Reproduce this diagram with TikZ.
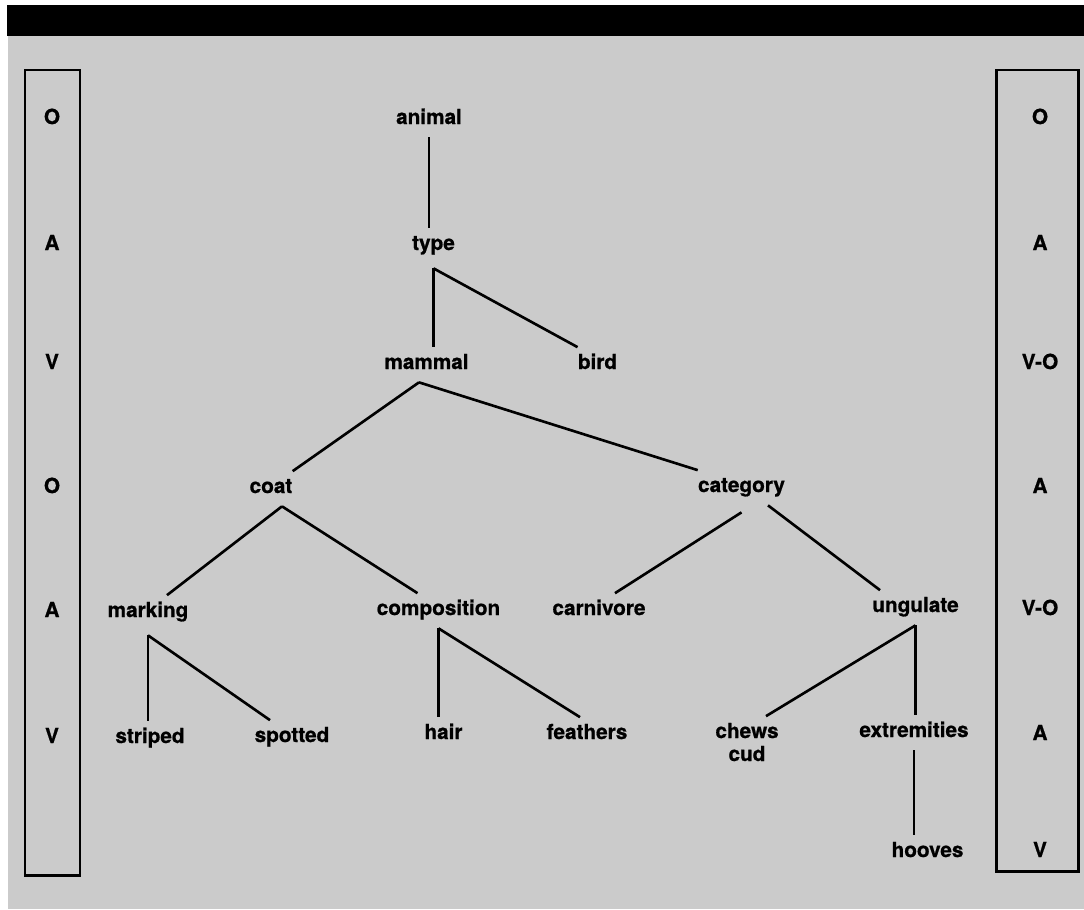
\documentclass[tikz,border=0pt]{standalone}
\usepackage{fontspec}
\setmainfont[BoldFeatures={FakeBold=0.8}]{TeX Gyre Heros}
\usepackage{tikz}
\pgfdeclarelayer{bg}
\pgfsetlayers{bg,main}
\definecolor{paper}{RGB}{203,203,203}
\tikzset{
    every node/.style={anchor=base, inner xsep=0mm, inner ysep=1.4mm, text height=2.9mm, text depth=1.2mm, font=\fontsize{11.8}{13}\selectfont\bfseries}
}
\tikzset{branch/.style={line width=1.5pt}}
\tikzset{column/.style={line width=1.7pt}}

\begin{document}
\begin{tikzpicture}
        \useasboundingbox (0cm, 0cm) rectangle (21.680000cm, -18.180000cm);
        \begin{pgfonlayer}{bg}
                \fill [white] (0cm, 0cm) rectangle (21.680000cm, -18.180000cm);
                \fill [paper] (0.160000cm, -0.720000cm) rectangle (21.680000cm, -18.180000cm);
                \fill [black] (0.140000cm, -0.100000cm) rectangle (21.680000cm, -0.720000cm);
        \end{pgfonlayer}
        % left and right columns
        \draw [column] (0.500000cm, -1.400000cm) rectangle (1.600000cm, -17.500000cm);
        \draw [column] (19.920000cm, -1.400000cm) rectangle (21.560000cm, -17.420000cm);
        \node (l0) at (1.040000cm, -2.480000cm) {O};
        \node (l1) at (1.040000cm, -5.000000cm) {A};
        \node (l2) at (1.040000cm, -7.380000cm) {V};
        \node (l3) at (1.040000cm, -9.860000cm) {O};
        \node (l4) at (1.040000cm, -12.340000cm) {A};
        \node (l5) at (1.040000cm, -14.860000cm) {V};
        \node (r0) at (20.800000cm, -2.480000cm) {O};
        \node (r1) at (20.800000cm, -5.000000cm) {A};
        \node (r2) at (20.800000cm, -7.380000cm) {V-O};
        \node (r3) at (20.800000cm, -9.860000cm) {A};
        \node (r4) at (20.800000cm, -12.300000cm) {V-O};
        \node (r5) at (20.800000cm, -14.800000cm) {A};
        \node (r6) at (20.800000cm, -17.140000cm) {V};
        % tree
        \node (animal) at (8.580000cm, -2.480000cm) {animal};
        \node (type) at (8.670000cm, -5.000000cm) {type};
        \node (mammal) at (8.530000cm, -7.380000cm) {mammal};
        \node (bird) at (11.950000cm, -7.380000cm) {bird};
        \node (coat) at (5.420000cm, -9.860000cm) {coat};
        \node (category) at (14.830000cm, -9.840000cm) {category};
        \node (marking) at (2.960000cm, -12.340000cm) {marking};
        \node (composition) at (8.770000cm, -12.300000cm) {composition};
        \node (carnivore) at (11.980000cm, -12.300000cm) {carnivore};
        \node (ungulate) at (18.310000cm, -12.240000cm) {ungulate};
        \node (striped) at (3.000000cm, -14.860000cm) {striped};
        \node (spotted) at (5.840000cm, -14.840000cm) {spotted};
        \node (hair) at (8.870000cm, -14.780000cm) {hair};
        \node (feathers) at (11.740000cm, -14.780000cm) {feathers};
        \node (chews) at (14.940000cm, -14.760000cm) {chews};
        \node (cud) at (14.940000cm, -15.220000cm) {cud};
        \node (extremities) at (18.280000cm, -14.740000cm) {extremities};
        \node (hooves) at (18.550000cm, -17.140000cm) {hooves};
        \draw (animal.south) edge [branch] (animal.south |- type.north);
        \draw ([yshift=-0.1cm]type.south) edge [branch] (type.south |- mammal.north);
        \draw ([yshift=-0.1cm]type.south) edge [branch] (bird.north west);
        \draw ([xshift=-0.15cm]mammal.south) edge [branch] (coat.north east);
        \draw ([xshift=-0.15cm]mammal.south) edge [branch] (category.north west);
        \draw ([xshift=0.22cm]coat.south) edge [branch] ([xshift=0.38cm]marking.north);
        \draw ([xshift=0.22cm]coat.south) edge [branch] ([xshift=-0.42cm]composition.north);
        \draw ([yshift=-0.14cm]category.south) edge [branch] ([xshift=0.32cm]carnivore.north);
        \draw ([xshift=0.53cm]category.south) edge [branch] ([xshift=0.16cm]ungulate.north west);
        \draw ([yshift=-0.1cm]marking.south) edge [branch] (marking.south |- striped.north);
        \draw ([yshift=-0.1cm]marking.south) edge [branch] ([xshift=-0.44cm]spotted.north);
        \draw (composition.south) edge [branch] (composition.south |- hair.north);
        \draw (composition.south) edge [branch] ([xshift=-0.14cm]feathers.north);
        \draw (ungulate.south) edge [branch] ([xshift=0.38cm]chews.north);
        \draw (ungulate.south) edge [branch] (ungulate.south |- extremities.north);
        \draw (extremities.south) edge [branch] (extremities.south |- hooves.north);
\end{tikzpicture}
\end{document}
